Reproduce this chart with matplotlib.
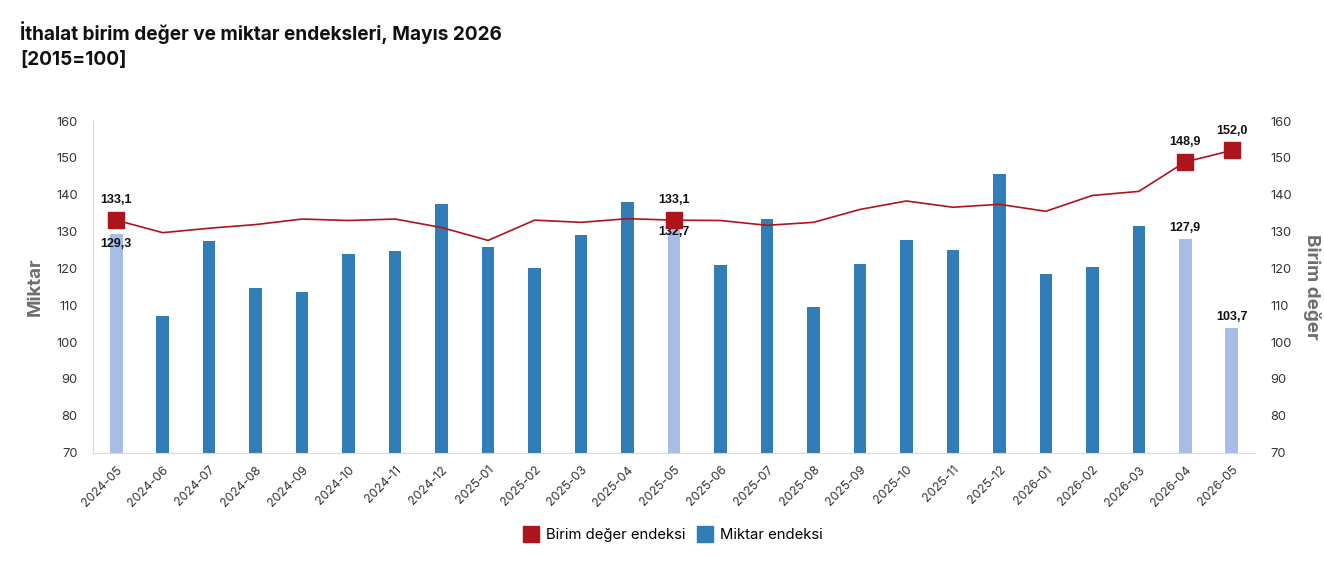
import matplotlib
matplotlib.use('Agg')
import matplotlib.pyplot as plt
from matplotlib.lines import Line2D

months = [
    '2024-05', '2024-06', '2024-07', '2024-08', '2024-09', '2024-10',
    '2024-11', '2024-12', '2025-01', '2025-02', '2025-03', '2025-04',
    '2025-05', '2025-06', '2025-07', '2025-08', '2025-09', '2025-10',
    '2025-11', '2025-12', '2026-01', '2026-02', '2026-03', '2026-04',
    '2026-05',
]
miktar = [
    129.3, 107.2, 127.4, 114.6, 113.6, 123.8,
    124.6, 137.5, 125.8, 120.0, 129.2, 137.9,
    132.7, 120.8, 133.3, 109.5, 121.3, 127.6,
    124.9, 145.5, 118.4, 120.5, 131.5, 127.9,
    103.7,
]
birim_deger = [
    133.1, 129.7, 130.9, 131.9, 133.4, 133.0,
    133.4, 131.1, 127.6, 133.1, 132.5, 133.5,
    133.1, 133.0, 131.7, 132.5, 136.0, 138.3,
    136.6, 137.4, 135.5, 139.8, 140.9, 148.9,
    152.0,
]
# months that get highlighted (light bar, square marker, value labels)
highlight = ['2024-05', '2025-05', '2026-04', '2026-05']
# bar labels drawn inside the bar (marker sits right above)
bar_label_inside = ['2024-05', '2025-05']

DARK_BLUE = '#317db8'
LIGHT_BLUE = '#a6bde5'
RED = '#ad141c'
GRID_GRAY = '#d9d9d9'

plt.rcParams['font.family'] = ['Inter', 'DejaVu Sans']

fig = plt.figure(figsize=(13.24, 5.65), dpi=100)
ax = fig.add_axes([93 / 1324, 1 - 452.7 / 565, 1162 / 1324, 331.7 / 565])
ax2 = ax.twinx()

x = list(range(len(months)))
colors = [LIGHT_BLUE if m in highlight else DARK_BLUE for m in months]
ax.bar(x, [v - 70 for v in miktar], bottom=70, width=0.27, color=colors, zorder=2)

ax2.plot(x, birim_deger, color=RED, lw=1.2, zorder=3)
hx = [i for i, m in enumerate(months) if m in highlight]
ax2.plot(hx, [birim_deger[i] for i in hx], ls='none', marker='s',
         markersize=11, color=RED, zorder=4)

for a in (ax, ax2):
    a.set_ylim(70, 160)
    a.set_xlim(-0.5, len(months) - 0.5)
    for s in a.spines.values():
        s.set_visible(False)
ax.spines['bottom'].set_visible(True)
ax.spines['bottom'].set_color(GRID_GRAY)
ax.spines['left'].set_visible(True)
ax.spines['left'].set_color(GRID_GRAY)

ax.set_yticks(range(70, 161, 10))
ax2.set_yticks(range(70, 161, 10))
ax.tick_params(axis='y', length=0, pad=11, labelsize=9.3, labelcolor='#333333')
ax2.tick_params(axis='y', length=0, pad=11, labelsize=9.3, labelcolor='#333333')
ax.set_xticks(x)
ax.set_xticklabels(months, rotation=45, ha='right', rotation_mode='anchor')
ax.tick_params(axis='x', length=0, pad=8, labelsize=8.8, labelcolor='#333333')

ax.set_ylabel('Miktar', fontsize=13.5, fontweight='bold', color='#6e6e6e')
ax.yaxis.set_label_coords(-0.042, 0.5)
ax2.set_ylabel('Birim değer', fontsize=13.5, fontweight='bold', color='#6e6e6e',
               rotation=270, va='center')
ax2.yaxis.set_label_coords(1.049, 0.5)

lbl = dict(fontsize=9, fontweight='bold', family=['Liberation Sans', 'DejaVu Sans'],
           ha='center', color='#111111')
for i in hx:
    ax2.annotate(f'{birim_deger[i]:.1f}'.replace('.', ','), (i, birim_deger[i]),
                 xytext=(0, 10), textcoords='offset points', va='bottom', **lbl)
    if months[i] in bar_label_inside:
        ax.annotate(f'{miktar[i]:.1f}'.replace('.', ','), (i, miktar[i]),
                    xytext=(0, -3), textcoords='offset points', va='top', zorder=5, **lbl)
    else:
        ax.annotate(f'{miktar[i]:.1f}'.replace('.', ','), (i, miktar[i]),
                    xytext=(0, 4), textcoords='offset points', va='bottom', **lbl)

fig.text(20 / 1324, 1 - 33 / 565, 'İthalat birim değer ve miktar endeksleri, Mayıs 2026',
         fontsize=13.7, fontweight='bold', va='center', color='#111111')
fig.text(20 / 1324, 1 - 60 / 565, '[2015=100]',
         fontsize=13.7, fontweight='bold', va='center', color='#111111')

handles = [
    Line2D([], [], ls='none', marker='s', markersize=11, color=RED),
    Line2D([], [], ls='none', marker='s', markersize=11, color=DARK_BLUE),
]
fig.legend(handles, ['Birim değer endeksi', 'Miktar endeksi'], loc='center',
           bbox_to_anchor=(673 / 1324, 1 - 535 / 565), ncol=2, frameon=False,
           fontsize=10.7, handletextpad=0.45, columnspacing=0.75, handlelength=1.1)

fig.savefig('out.png', dpi=100)
